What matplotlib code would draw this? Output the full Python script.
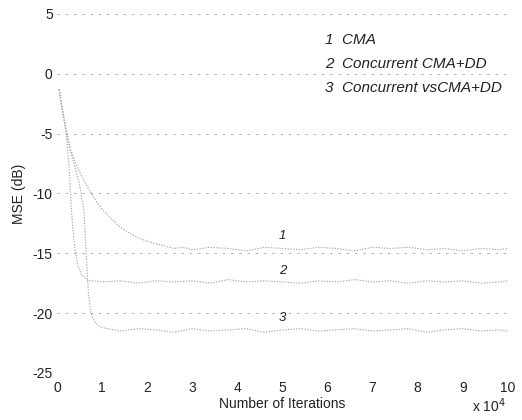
import matplotlib
matplotlib.use("Agg")
import matplotlib.pyplot as plt

plt.rcParams['font.family'] = ['Liberation Sans', 'DejaVu Sans']
plt.rcParams['axes.unicode_minus'] = False

# iterations (x 10^4) and MSE (dB)
cma_x = [0.05, 0.1, 0.2, 0.3, 0.4, 0.5, 0.6, 0.7, 0.8, 0.9, 1.0, 1.2, 1.4, 1.6, 1.8,
         2.0, 2.2, 2.4, 2.6, 2.8, 3.0, 3.4, 3.8, 4.2, 4.6, 5.0, 5.4, 5.8, 6.2, 6.6,
         7.0, 7.4, 7.8, 8.2, 8.6, 9.0, 9.4, 9.8, 10.0]
cma_y = [-1.3, -2.5, -4.6, -6.3, -7.3, -8.2, -8.9, -9.6, -10.2, -10.8, -11.3, -12.1, -12.8,
         -13.3, -13.7, -14.0, -14.2, -14.4, -14.6, -14.5, -14.7, -14.5, -14.6, -14.8, -14.5,
         -14.6, -14.7, -14.5, -14.6, -14.8, -14.5, -14.6, -14.5, -14.7, -14.6, -14.8, -14.6,
         -14.7, -14.6]

ccma_x = [0.05, 0.1, 0.2, 0.27, 0.3, 0.35, 0.4, 0.47, 0.55, 0.69, 0.8, 1.0, 1.4, 1.8, 2.2,
          2.6, 3.0, 3.4, 3.8, 4.2, 4.6, 5.0, 5.4, 5.8, 6.2, 6.6, 7.0, 7.4, 7.8, 8.2, 8.6,
          9.0, 9.4, 9.8, 10.0]
ccma_y = [-1.3, -2.6, -4.8, -7.8, -10.0, -12.8, -14.6, -16.1, -16.8, -17.3, -17.3, -17.4,
          -17.3, -17.5, -17.3, -17.4, -17.3, -17.5, -17.2, -17.4, -17.3, -17.4, -17.5,
          -17.3, -17.4, -17.2, -17.4, -17.3, -17.5, -17.3, -17.4, -17.3, -17.5, -17.4, -17.3]

cvs_x = [0.05, 0.1, 0.2, 0.3, 0.4, 0.5, 0.6, 0.65, 0.7, 0.75, 0.8, 0.9, 1.0, 1.4, 1.8,
         2.2, 2.6, 3.0, 3.4, 3.8, 4.2, 4.6, 5.0, 5.4, 5.8, 6.2, 6.6, 7.0, 7.4, 7.8, 8.2,
         8.6, 9.0, 9.4, 9.8, 10.0]
cvs_y = [-1.3, -2.6, -4.7, -6.5, -7.8, -9.2, -11.5, -15.0, -18.5, -19.8, -20.5, -21.0,
         -21.2, -21.5, -21.3, -21.4, -21.6, -21.3, -21.5, -21.4, -21.3, -21.6, -21.4, -21.3,
         -21.5, -21.4, -21.3, -21.5, -21.4, -21.3, -21.6, -21.4, -21.3, -21.5, -21.4, -21.5]

curve_tags = ["1", "2", "3"]
tag_pos = [(5.0, -14.1), (5.0, -17.0), (5.0, -20.9)]
legend_lines = ["1  CMA", "2  Concurrent CMA+DD", "3  Concurrent vsCMA+DD"]
legend_y = [2.8, 0.8, -1.2]

x_ticks = list(range(0, 11))
y_ticks = [-25, -20, -15, -10, -5, 0, 5]

fig = plt.figure(figsize=(5.22, 4.2), dpi=100)
ax = fig.add_axes([0.109, 0.112, 0.864, 0.855])

for xs, ys in [(cma_x, cma_y), (ccma_x, ccma_y), (cvs_x, cvs_y)]:
    ax.plot(xs, ys, color='#a8a8a8', lw=0.8, ls=(0, (1.2, 1.3)))

for t, (tx, ty) in zip(curve_tags, tag_pos):
    ax.text(tx, ty, t, style='italic', fontsize=9.5, ha='center', va='bottom', color='#222')

for s, yy in zip(legend_lines, legend_y):
    ax.text(5.95, yy, s, style='italic', fontsize=11, ha='left', va='center', color='#222')

ax.set_xlim(0, 10)
ax.set_ylim(-25, 5)
ax.set_xticks(x_ticks)
ax.set_yticks(y_ticks)
ax.tick_params(length=0, labelsize=10, colors='#222', pad=3)
ax.tick_params(axis='x', pad=6)
for sp in ax.spines.values():
    sp.set_visible(False)
ax.yaxis.grid(True, color='#b0b0b0', lw=0.7, ls=(0, (2.5, 6)))
ax.set_axisbelow(True)

ax.set_xlabel("Number of Iterations", fontsize=10, color='#222', labelpad=1)
ax.set_ylabel("MSE (dB)", fontsize=10, color='#222', labelpad=5)
fig.text(0.905, 0.02, r"x 10$^4$", fontsize=10, color='#222')

plt.savefig("out.png", dpi=100)
